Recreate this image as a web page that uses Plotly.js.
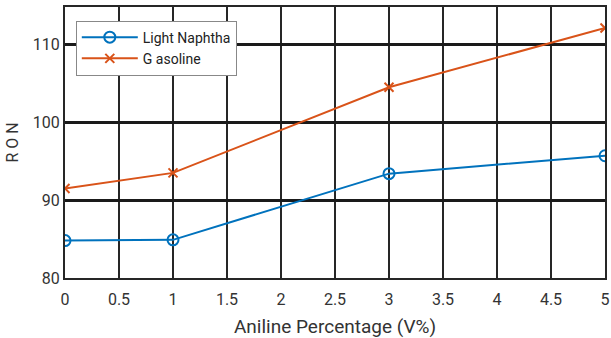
<!DOCTYPE html>
<html>
<head>
<meta charset="utf-8">
<script src="https://cdn.plot.ly/plotly-3.0.1.min.js"></script>
<style>
  html, body { margin: 0; padding: 0; background: #fff; }
  #chart { width: 611px; height: 338px; }
</style>
</head>
<body>
<div id="chart"></div>
<script>
// Aniline content (V%) and measured research octane numbers
const anilinePct = [0, 1, 3, 5];
const lightNaphthaRON = [84.8, 84.9, 93.4, 95.7];
const gasolineRON = [91.5, 93.5, 104.5, 112.1];
const xTicks = [0, 0.5, 1, 1.5, 2, 2.5, 3, 3.5, 4, 4.5, 5];
const yTicks = [80, 90, 100, 110];

const FONT = '"Roboto", "Open Sans", sans-serif';

const traces = [
  {
    x: anilinePct, y: lightNaphthaRON, name: 'Light Naphtha',
    mode: 'lines+markers', type: 'scatter',
    line: { color: '#0072BD', width: 2 },
    marker: { symbol: 'circle-open', size: 11, color: '#0072BD', line: { width: 2, color: '#0072BD' } }
  },
  {
    x: anilinePct, y: gasolineRON, name: 'G asoline',
    mode: 'lines+markers', type: 'scatter',
    line: { color: '#D95319', width: 2 },
    marker: { symbol: 'x-thin-open', size: 9, color: '#D95319', line: { width: 2, color: '#D95319' } }
  }
];

const layout = {
  width: 611, height: 338,
  margin: { l: 65, r: 6, t: 7, b: 60 },
  paper_bgcolor: '#fff', plot_bgcolor: '#fff',
  font: { family: FONT, size: 15, color: '#333' },
  showlegend: true,
  legend: {
    x: 0.02, y: 0.95, xanchor: 'left', yanchor: 'top',
    bgcolor: '#fff', bordercolor: '#888', borderwidth: 1,
    font: { family: FONT, size: 14, color: '#222' },
    itemwidth: 56, tracegroupgap: 0
  },
  xaxis: {
    range: [0, 5], tickvals: xTicks, ticktext: xTicks.map(String),
    showgrid: true, gridcolor: '#262626', gridwidth: 2,
    zeroline: false, showline: true, linecolor: '#262626', linewidth: 2, mirror: true,
    ticks: '', ticklabelstandoff: 6, tickfont: { size: 16, color: '#333' },
    title: { text: 'Aniline Percentage (V%)', font: { size: 19, color: '#333' }, standoff: 17 }
  },
  yaxis: {
    range: [80, 114.8], tickvals: yTicks, ticktext: yTicks.map(String),
    showgrid: true, gridcolor: '#1a1a1a', gridwidth: 3,
    zeroline: false, showline: true, linecolor: '#262626', linewidth: 2, mirror: true,
    ticks: '', tickfont: { size: 16, color: '#333' },
    title: { text: 'R O N', font: { size: 16, color: '#333' }, standoff: 10 }
  }
};

Plotly.newPlot('chart', traces, layout, { displayModeBar: false, staticPlot: true });
</script>
</body>
</html>
